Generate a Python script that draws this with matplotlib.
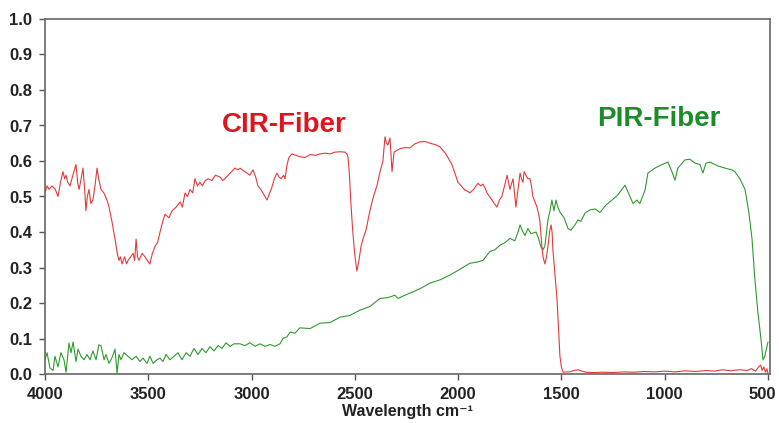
import numpy as np
from matplotlib import pyplot as plt
from matplotlib.transforms import ScaledTranslation

# CIR-Fiber (red) : wavenumber
cir_wn = [4000, 3990, 3980, 3966, 3950, 3937, 3925, 3913, 3905, 3898, 3890, 3879, 3865, 3850, 3842, 3835,
          3825, 3816, 3808, 3802, 3795, 3787, 3778, 3768, 3758, 3748, 3740, 3729, 3715, 3700, 3690, 3676,
          3661, 3650, 3642, 3635, 3627, 3615, 3605, 3598, 3585, 3574, 3566, 3559, 3552, 3545, 3530, 3516,
          3505, 3492, 3480, 3467, 3455, 3443, 3430, 3419, 3400, 3385, 3365, 3346, 3335, 3322, 3310, 3298,
          3285, 3274, 3262, 3250, 3238, 3225, 3210, 3192, 3175, 3153, 3140, 3129, 3105, 3080, 3065, 3056,
          3045, 3032, 3020, 3008, 2993, 2980, 2969, 2955, 2945, 2925, 2912, 2901, 2890, 2877, 2867, 2857,
          2845, 2838, 2828, 2819, 2805, 2790, 2765, 2741, 2715, 2690, 2669, 2640, 2620, 2596, 2570, 2548,
          2538, 2533, 2526, 2519, 2511, 2504, 2497, 2490, 2480, 2470, 2458, 2446, 2427, 2410, 2393, 2378,
          2364, 2354, 2347, 2340, 2330, 2325, 2320, 2310, 2295, 2281, 2255, 2233, 2210, 2185, 2160, 2136,
          2110, 2088, 2059, 2045, 2030, 2015, 2001, 1985, 1967, 1955, 1943, 1925, 1904, 1890, 1880, 1870,
          1860, 1848, 1836, 1825, 1812, 1800, 1788, 1775, 1763, 1756, 1749, 1742, 1734, 1727, 1720, 1710,
          1700, 1693, 1686, 1680, 1672, 1662, 1652, 1645, 1638, 1628, 1618, 1610, 1604, 1596, 1589, 1580,
          1572, 1565, 1557, 1550, 1545, 1541, 1531, 1521, 1514, 1507, 1500, 1492, 1480, 1460, 1440, 1420,
          1400, 1380, 1350, 1300, 1250, 1200, 1150, 1100, 1050, 1000, 950, 900, 850, 800, 760, 720,
          680, 640, 600, 580, 560, 545, 535, 528, 520, 512, 505, 500]
cir_val = [0.51, 0.53, 0.52, 0.53, 0.52, 0.50, 0.54, 0.57, 0.55, 0.56, 0.54, 0.53, 0.56, 0.59, 0.54, 0.52,
           0.55, 0.58, 0.52, 0.46, 0.50, 0.52, 0.48, 0.49, 0.53, 0.58, 0.55, 0.52, 0.51, 0.49, 0.47, 0.43,
           0.38, 0.34, 0.32, 0.33, 0.31, 0.33, 0.31, 0.32, 0.33, 0.34, 0.32, 0.38, 0.33, 0.32, 0.34, 0.33,
           0.32, 0.31, 0.34, 0.36, 0.37, 0.40, 0.43, 0.45, 0.44, 0.46, 0.47, 0.485, 0.47, 0.51, 0.50, 0.52,
           0.51, 0.55, 0.53, 0.54, 0.53, 0.545, 0.55, 0.545, 0.56, 0.555, 0.545, 0.55, 0.565, 0.58, 0.575, 0.58,
           0.575, 0.57, 0.565, 0.56, 0.575, 0.555, 0.53, 0.52, 0.51, 0.49, 0.51, 0.527, 0.55, 0.566, 0.555, 0.55,
           0.56, 0.55, 0.59, 0.61, 0.62, 0.617, 0.612, 0.61, 0.618, 0.616, 0.62, 0.622, 0.62, 0.625, 0.626, 0.625,
           0.62, 0.61, 0.56, 0.48, 0.41, 0.36, 0.32, 0.29, 0.32, 0.36, 0.385, 0.405, 0.46, 0.50, 0.53, 0.57,
           0.60, 0.668, 0.65, 0.645, 0.665, 0.62, 0.57, 0.625, 0.63, 0.635, 0.638, 0.637, 0.648, 0.654, 0.655, 0.65,
           0.646, 0.64, 0.62, 0.605, 0.59, 0.565, 0.54, 0.53, 0.518, 0.515, 0.51, 0.52, 0.537, 0.53, 0.535, 0.525,
           0.51, 0.50, 0.49, 0.48, 0.47, 0.49, 0.50, 0.53, 0.56, 0.54, 0.52, 0.535, 0.55, 0.51, 0.47, 0.52,
           0.566, 0.55, 0.54, 0.57, 0.56, 0.55, 0.55, 0.53, 0.50, 0.485, 0.47, 0.45, 0.43, 0.37, 0.33, 0.31,
           0.33, 0.36, 0.40, 0.42, 0.40, 0.35, 0.28, 0.21, 0.13, 0.05, 0.02, 0.005, 0.006, 0.006, 0.01, 0.012,
           0.008, 0.005, 0.004, 0.005, 0.004, 0.006, 0.005, 0.007, 0.006, 0.008, 0.006, 0.009, 0.007, 0.01, 0.008, 0.012,
           0.009, 0.012, 0.01, 0.015, 0.008, 0.02, 0.025, 0.01, 0.02, 0.005, 0.015, 0.002]

# PIR-Fiber (green)
pir_wn = [4000, 3990, 3976, 3961, 3952, 3937, 3923, 3908, 3898, 3884, 3874, 3864, 3850, 3840, 3826, 3811,
          3797, 3782, 3768, 3753, 3739, 3729, 3714, 3705, 3690, 3676, 3661, 3651, 3642, 3632, 3618, 3598,
          3579, 3559, 3540, 3526, 3506, 3492, 3477, 3458, 3443, 3429, 3414, 3395, 3375, 3356, 3337, 3317,
          3298, 3279, 3259, 3240, 3221, 3201, 3182, 3162, 3143, 3124, 3104, 3085, 3056, 3032, 3008, 2983,
          2959, 2935, 2911, 2887, 2862, 2848, 2828, 2814, 2790, 2766, 2717, 2669, 2620, 2572, 2524, 2475,
          2427, 2378, 2340, 2306, 2291, 2257, 2233, 2185, 2136, 2088, 2039, 1991, 1943, 1909, 1880, 1846,
          1822, 1797, 1773, 1749, 1725, 1710, 1700, 1686, 1676, 1662, 1647, 1638, 1623, 1613, 1599, 1589,
          1580, 1565, 1555, 1546, 1536, 1526, 1517, 1507, 1487, 1468, 1454, 1434, 1420, 1405, 1386, 1362,
          1337, 1313, 1284, 1255, 1226, 1192, 1168, 1153, 1134, 1120, 1095, 1081, 1047, 1013, 984, 965,
          950, 936, 902, 878, 853, 829, 815, 800, 781, 742, 708, 674, 660, 636, 611, 592,
          577, 563, 548, 534, 524, 515, 500]
pir_val = [0.04, 0.06, 0.017, 0.01, 0.05, 0.02, 0.06, 0.04, 0.005, 0.087, 0.06, 0.09, 0.035, 0.07, 0.05, 0.04,
           0.055, 0.04, 0.065, 0.04, 0.082, 0.08, 0.04, 0.055, 0.03, 0.045, 0.07, 0.002, 0.055, 0.04, 0.06, 0.05,
           0.04, 0.05, 0.035, 0.045, 0.03, 0.05, 0.03, 0.04, 0.045, 0.035, 0.055, 0.04, 0.05, 0.06, 0.04, 0.06,
           0.05, 0.072, 0.055, 0.072, 0.06, 0.077, 0.065, 0.08, 0.072, 0.088, 0.078, 0.085, 0.085, 0.08, 0.088, 0.078,
           0.085, 0.078, 0.083, 0.078, 0.085, 0.10, 0.105, 0.118, 0.115, 0.13, 0.128, 0.143, 0.145, 0.16, 0.165, 0.18,
           0.19, 0.213, 0.215, 0.222, 0.213, 0.222, 0.228, 0.24, 0.256, 0.265, 0.279, 0.295, 0.312, 0.315, 0.32, 0.345,
           0.35, 0.363, 0.37, 0.382, 0.375, 0.40, 0.42, 0.40, 0.39, 0.41, 0.395, 0.397, 0.40, 0.386, 0.358, 0.35,
           0.36, 0.434, 0.46, 0.49, 0.46, 0.49, 0.47, 0.456, 0.44, 0.41, 0.405, 0.42, 0.434, 0.43, 0.453, 0.462,
           0.465, 0.455, 0.476, 0.49, 0.505, 0.532, 0.50, 0.48, 0.49, 0.48, 0.518, 0.566, 0.58, 0.59, 0.597, 0.57,
           0.546, 0.58, 0.603, 0.605, 0.594, 0.59, 0.566, 0.594, 0.597, 0.586, 0.58, 0.575, 0.57, 0.55, 0.52, 0.454,
           0.38, 0.265, 0.17, 0.10, 0.04, 0.05, 0.09]

x_ticks = [4000, 3500, 3000, 2500, 2000, 1500, 1000, 500]
y_ticks = [0.0, 0.1, 0.2, 0.3, 0.4, 0.5, 0.6, 0.7, 0.8, 0.9, 1.0]

plt.rcParams['font.family'] = ['Liberation Sans', 'DejaVu Sans']

fig = plt.figure(figsize=(7.79, 4.23), dpi=100)
ax = fig.add_axes([45 / 779, 49 / 423, 725 / 779, 355 / 423])

ax.plot(pir_wn, pir_val, color='#2e9a2e', lw=0.8)
ax.plot(cir_wn, cir_val, color='#e23a3a', lw=0.8)

ax.set_xlim(4000, 490)
ax.set_ylim(0, 1)
ax.set_xticks(x_ticks)
ax.set_yticks(y_ticks)
ax.set_yticklabels(['%.1f' % v for v in y_ticks])
ax.tick_params(direction='out', length=4, width=1, color='#555555', labelsize=12, pad=5)
for lab in ax.get_xticklabels() + ax.get_yticklabels():
    lab.set_fontweight('bold')
    lab.set_color('#222222')
# last x label sits on the figure edge, nudge it in a little
last = ax.get_xticklabels()[-1]
last.set_transform(last.get_transform() + ScaledTranslation(-4 / 72, 0, fig.dpi_scale_trans))
for s in ax.spines.values():
    s.set_color('#666666')
    s.set_linewidth(1.2)

ax.set_xlabel('Wavelength cm\u207b\u00b9', fontsize=11.5, fontweight='bold', color='#222222', labelpad=2)

ax.text(2843, 0.682, 'CIR-Fiber', color='#e0141e', fontsize=20, fontweight='bold', ha='center', va='baseline')
ax.text(1028, 0.699, 'PIR-Fiber', color='#1c8c2a', fontsize=20, fontweight='bold', ha='center', va='baseline')

plt.savefig('out.png', dpi=100)
